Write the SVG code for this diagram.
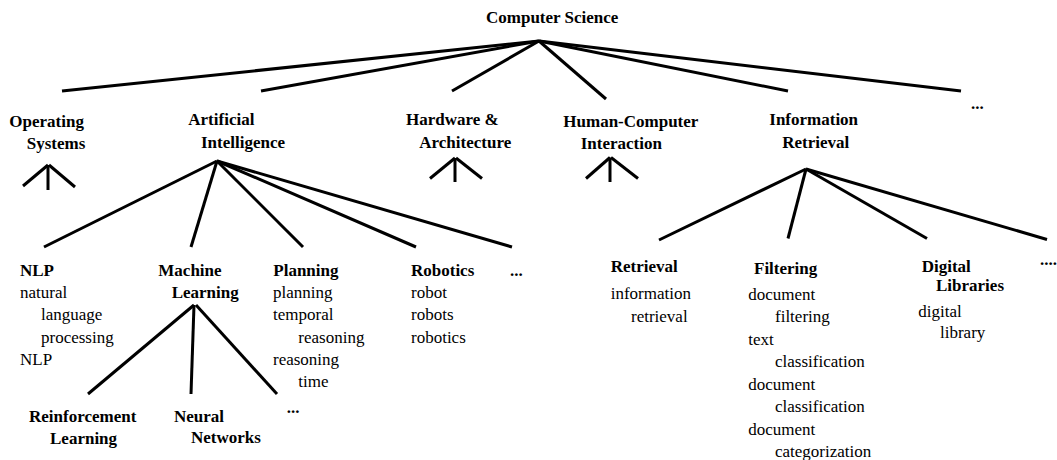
<svg xmlns="http://www.w3.org/2000/svg" width="1057" height="460" viewBox="0 0 1057 460">
<style>
text{font-family:"Liberation Serif","Times New Roman",serif;font-size:17px;fill:#000}
.b{font-weight:bold}
.c line{stroke:#000;stroke-width:3;stroke-linecap:butt}
</style>
<rect width="1057" height="460" fill="#fff"/>
<g class="c" id="connectors">
<line x1="539" y1="41" x2="62" y2="91"/>
<line x1="539" y1="41" x2="261" y2="91"/>
<line x1="539" y1="41" x2="452" y2="91"/>
<line x1="539" y1="41" x2="606" y2="99"/>
<line x1="539" y1="41" x2="788" y2="91"/>
<line x1="539" y1="41" x2="961" y2="91"/>
<line x1="48" y1="165" x2="23" y2="186"/>
<line x1="48" y1="165" x2="48" y2="190"/>
<line x1="49" y1="165" x2="75" y2="187"/>
<line x1="455" y1="158" x2="430" y2="178.5"/>
<line x1="455" y1="158" x2="455" y2="182"/>
<line x1="456" y1="158" x2="482" y2="178.5"/>
<line x1="610" y1="157.5" x2="586" y2="178.5"/>
<line x1="610" y1="157.5" x2="610" y2="182"/>
<line x1="611" y1="157.5" x2="638" y2="178.5"/>
<line x1="217" y1="161" x2="44" y2="247"/>
<line x1="217" y1="161" x2="191" y2="247"/>
<line x1="217" y1="161" x2="303" y2="247"/>
<line x1="217" y1="161" x2="416" y2="247"/>
<line x1="217" y1="161" x2="512" y2="247"/>
<line x1="194" y1="305" x2="88" y2="394"/>
<line x1="194" y1="305" x2="191" y2="394"/>
<line x1="196" y1="305" x2="277" y2="394"/>
<line x1="806" y1="169" x2="659" y2="240"/>
<line x1="806" y1="169" x2="788" y2="238.5"/>
<line x1="806" y1="169" x2="927" y2="238.5"/>
<line x1="806" y1="169" x2="1047" y2="239.5"/>
</g>
<g id="n-cs"><text class="b" x="486" y="23">Computer Science</text></g>
<g id="n-os"><text class="b" x="9.3" y="126.7">Operating</text><text class="b" x="26.7" y="149">Systems</text></g>
<g id="n-ai"><text class="b" x="188.3" y="125.3">Artificial</text><text class="b" x="201" y="147.7">Intelligence</text></g>
<g id="n-hw"><text class="b" x="406" y="125.3">Hardware &amp;</text><text class="b" x="419.3" y="147.7">Architecture</text></g>
<g id="n-hci"><text class="b" x="563.3" y="126.7">Human-Computer</text><text class="b" x="580.7" y="149">Interaction</text></g>
<g id="n-ir"><text class="b" x="769.3" y="125.3">Information</text><text class="b" x="782.3" y="147.7">Retrieval</text></g>
<g id="n-cs-more"><text class="b" x="971" y="109.3">...</text></g>
<g id="n-nlp"><text class="b" x="20" y="275.7">NLP</text><text x="20" y="297.7">natural</text><text x="41" y="319.5">language</text><text x="41" y="342.7">processing</text><text x="20" y="365">NLP</text></g>
<g id="n-ml"><text class="b" x="158.3" y="275.7">Machine</text><text class="b" x="171.7" y="297.7">Learning</text></g>
<g id="n-plan"><text class="b" x="273.3" y="275.7">Planning</text><text x="273" y="297.7">planning</text><text x="273" y="320">temporal</text><text x="298.3" y="342.7">reasoning</text><text x="273" y="365">reasoning</text><text x="298.3" y="387.3">time</text></g>
<g id="n-rob"><text class="b" x="411" y="275.7">Robotics</text><text x="411" y="297.7">robot</text><text x="411" y="320">robots</text><text x="411" y="342.7">robotics</text></g>
<g id="n-ai-more"><text class="b" x="510" y="275.7">...</text></g>
<g id="n-rl"><text class="b" x="29" y="421.7">Reinforcement</text><text class="b" x="50" y="444">Learning</text></g>
<g id="n-nn"><text class="b" x="174" y="421.7">Neural</text><text class="b" x="191" y="442.7">Networks</text></g>
<g id="n-ml-more"><text class="b" x="286.7" y="412.7">...</text></g>
<g id="n-ret"><text class="b" x="610.7" y="271.7">Retrieval</text><text x="610.7" y="299.3">information</text><text x="631" y="321.7">retrieval</text></g>
<g id="n-filt"><text class="b" x="754" y="273.5">Filtering</text><text x="748.3" y="300">document</text><text x="775" y="321.7">filtering</text><text x="748.3" y="345">text</text><text x="775" y="366.7">classification</text><text x="748.3" y="390">document</text><text x="775" y="411.7">classification</text><text x="748.3" y="435">document</text><text x="775" y="456.7">categorization</text></g>
<g id="n-dl"><text class="b" x="921.7" y="271.7">Digital</text><text class="b" x="936" y="290.7">Libraries</text><text x="918.3" y="316.7">digital</text><text x="940" y="338.3">library</text></g>
<g id="n-ir-more"><text class="b" x="1040" y="265">....</text></g>
</svg>
